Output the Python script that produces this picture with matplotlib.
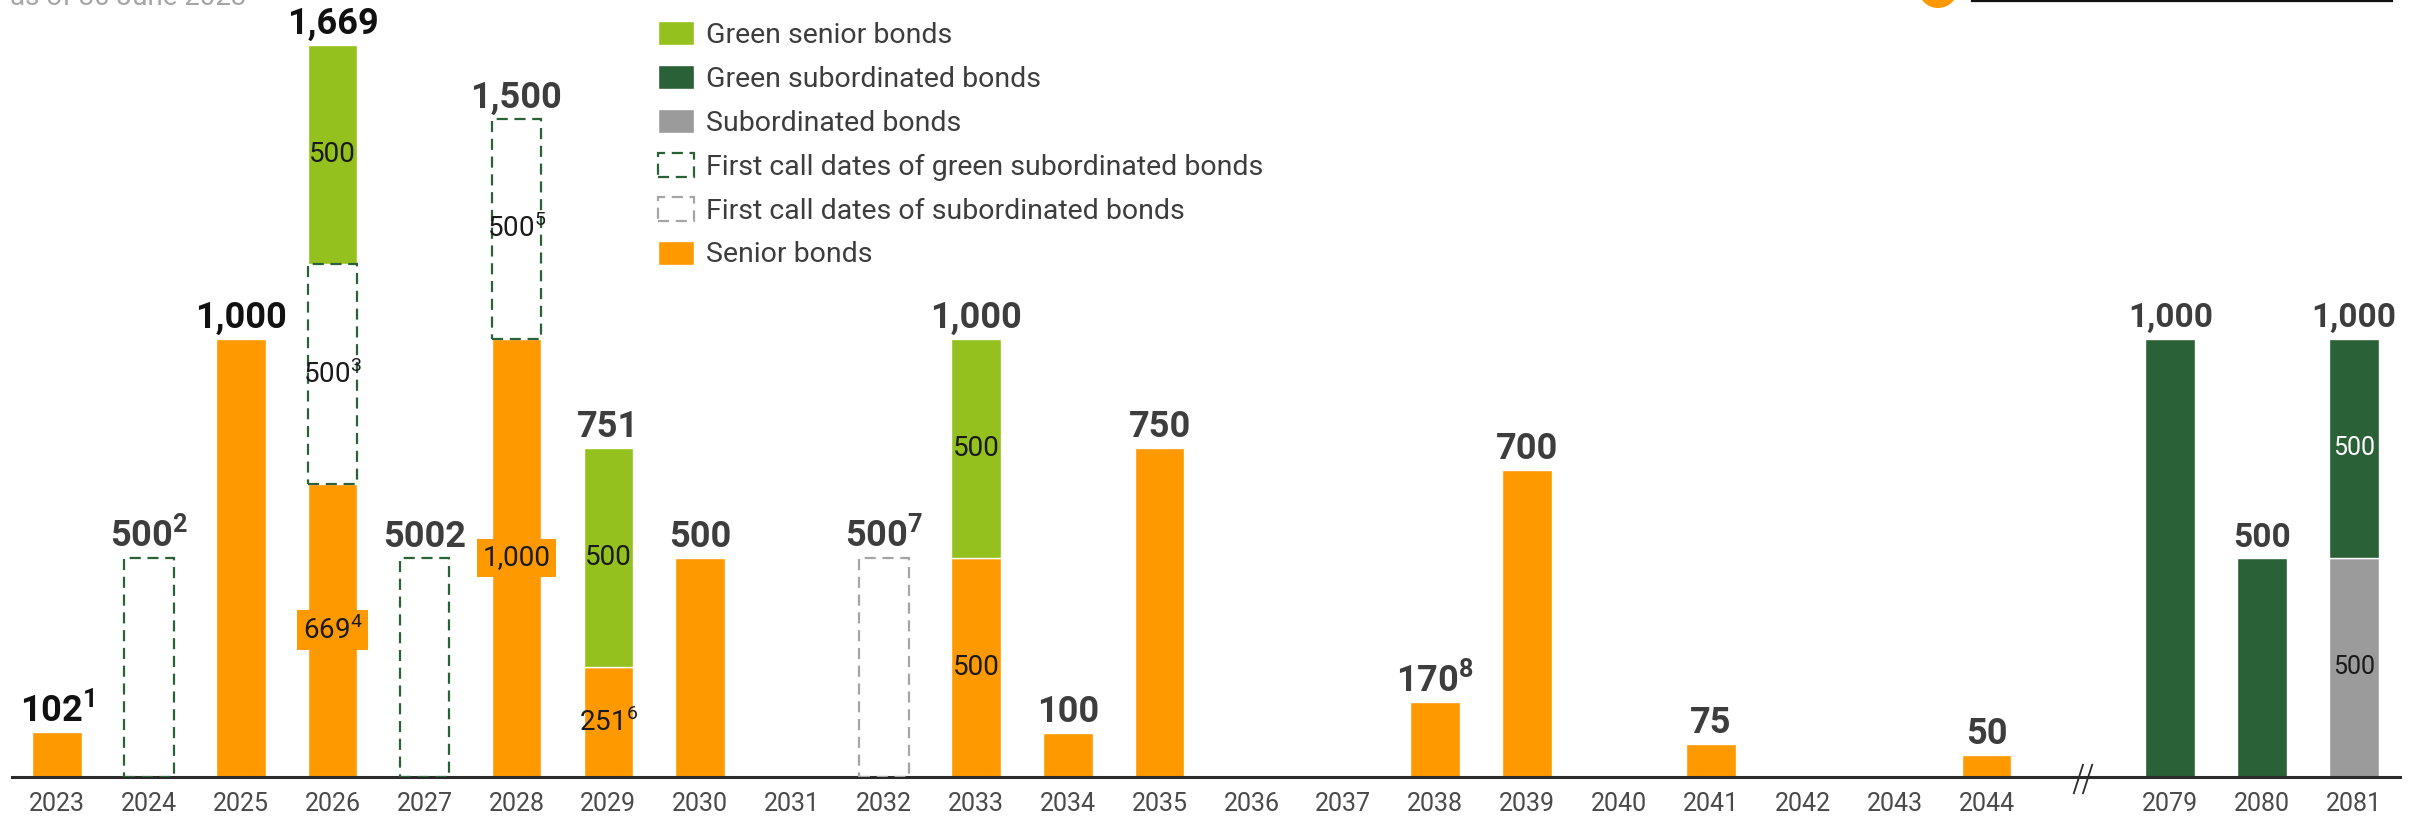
import matplotlib
matplotlib.use("Agg")
import matplotlib.pyplot as plt
from matplotlib import font_manager
from matplotlib.patches import Patch, Ellipse
from matplotlib.lines import Line2D
import numpy as np

# ---- data (EUR m, maturity profile as of 30 June 2023) ----
years = ['2023', '2024', '2025', '2026', '2027', '2028', '2029', '2030', '2031', '2032', '2033',
         '2034', '2035', '2036', '2037', '2038', '2039', '2040', '2041', '2042', '2043', '2044',
         '2079', '2080', '2081']
xpos = [0, 1, 2, 3, 4, 5, 6, 7, 8, 9, 10, 11, 12, 13, 14, 15, 16, 17, 18, 19, 20, 21, 23, 24, 25]

senior       = [102, 0, 1000, 669, 0, 1000, 251, 500, 0, 0, 500, 100, 750, 0, 0, 170, 700, 0, 75, 0, 0, 50, 0, 0, 0]
subordinated = [0, 0, 0, 0, 0, 0, 0, 0, 0, 0, 0, 0, 0, 0, 0, 0, 0, 0, 0, 0, 0, 0, 0, 0, 500]
call_green   = [0, 500, 0, 500, 500, 500, 0, 0, 0, 0, 0, 0, 0, 0, 0, 0, 0, 0, 0, 0, 0, 0, 0, 0, 0]
call_sub     = [0, 0, 0, 0, 0, 0, 0, 0, 0, 500, 0, 0, 0, 0, 0, 0, 0, 0, 0, 0, 0, 0, 0, 0, 0]
green_senior = [0, 0, 0, 500, 0, 0, 500, 0, 0, 0, 500, 0, 0, 0, 0, 0, 0, 0, 0, 0, 0, 0, 0, 0, 0]
green_sub    = [0, 0, 0, 0, 0, 0, 0, 0, 0, 0, 0, 0, 0, 0, 0, 0, 0, 0, 0, 0, 0, 0, 1000, 500, 500]

total_text = ['102', '500', '1,000', '1,669', '5002', '1,500', '751', '500', '', '500', '1,000',
              '100', '750', '', '', '170', '700', '', '75', '', '', '50', '1,000', '500', '1,000']
total_sup  = ['1', '2', '', '', '', '', '', '', '', '7', '', '', '', '', '', '8', '', '', '', '', '', '', '', '', '']
total_dark = ['2023', '2025', '2026']

inner_year   = ['2026', '2026', '2026', '2028', '2028', '2029', '2029', '2033', '2033', '2081', '2081']
inner_series = ['senior', 'call_green', 'green_senior', 'senior', 'call_green', 'senior', 'green_senior',
                'senior', 'green_senior', 'subordinated', 'green_sub']
inner_text   = ['669', '500', '500', '1,000', '500', '251', '500', '500', '500', '500', '500']
inner_sup    = ['4', '3', '', '', '5', '6', '', '', '', '', '']
inner_boxed  = ['2026/senior', '2028/senior']

legend_labels = ['Green senior bonds', 'Green subordinated bonds', 'Subordinated bonds',
                 'First call dates of green subordinated bonds', 'First call dates of subordinated bonds',
                 'Senior bonds']

# ---- style ----
ORANGE = '#FF9900'
LGREEN = '#95C11F'
DGREEN = '#2A6136'
GREY = '#9B9B9B'
DASHGREY = '#A5A5A5'
TXT = '#3D3D3D'
DASH = (0, (5, 3))

names = {f.name for f in font_manager.fontManager.ttflist}
main_font = 'Liberation Sans Narrow' if 'Liberation Sans Narrow' in names else 'Roboto'
plt.rcParams['font.family'] = [main_font, 'DejaVu Sans']
plt.rcParams['mathtext.fontset'] = 'custom'
plt.rcParams['mathtext.rm'] = main_font
plt.rcParams['mathtext.bf'] = main_font + ':bold'

fig = plt.figure(figsize=(24.28, 8.17), dpi=100)
ax = fig.add_axes([12 / 2428, 40 / 817, 2388 / 2428, 777 / 817])

x = np.array(xpos, dtype=float)
w = 0.54
series = {
    'senior': senior, 'subordinated': subordinated, 'call_green': call_green,
    'call_sub': call_sub, 'green_senior': green_senior, 'green_sub': green_sub,
}
order = ['senior', 'subordinated', 'call_green', 'call_sub', 'green_senior', 'green_sub']
bottoms = {}
bottom = np.zeros(len(years))
for name in order:
    vals = np.array(series[name], dtype=float)
    bottoms[name] = bottom.copy()
    m = vals > 0
    if name == 'call_green':
        ax.bar(x[m], vals[m], w, bottom=bottom[m], fill=False, edgecolor=DGREEN,
               linestyle=DASH, linewidth=1.6, zorder=3)
    elif name == 'call_sub':
        ax.bar(x[m], vals[m], w, bottom=bottom[m], fill=False, edgecolor=DASHGREY,
               linestyle=DASH, linewidth=1.6, zorder=3)
    else:
        col = {'senior': ORANGE, 'subordinated': GREY, 'green_senior': LGREEN, 'green_sub': DGREEN}[name]
        ax.bar(x[m], vals[m], w, bottom=bottom[m], color=col, edgecolor='white', linewidth=1.0, zorder=2)
    bottom = bottom + vals
totals = bottom

# totals above bars
for i, t in enumerate(total_text):
    if not t:
        continue
    right = xpos[i] > 21
    col = '#111111' if years[i] in total_dark else TXT
    if total_sup[i]:
        s = t + r'$^{\mathbf{' + total_sup[i] + '}}$'
    else:
        s = t
    ax.annotate(s, (x[i], totals[i]), xytext=(0, 8), textcoords='offset points',
                ha='center', va='baseline', fontsize=24 if right else 26, fontweight='bold',
                color=col, zorder=5)

# labels inside segments
for yr, ser, t, sp in zip(inner_year, inner_series, inner_text, inner_sup):
    i = years.index(yr)
    v = series[ser][i]
    yc = bottoms[ser][i] + v / 2
    s = t + (r'$^{\mathrm{' + sp + '}}$' if sp else '')
    right = xpos[i] > 21
    col = 'white' if ser == 'green_sub' else '#1A1A1A'
    kw = {}
    if yr + '/' + ser in inner_boxed:
        kw['bbox'] = dict(boxstyle='square,pad=0.2', facecolor=ORANGE, edgecolor='none')
    ax.text(x[i], yc, s, ha='center', va='center', color=col,
            fontsize=18 if right else 20, zorder=6, **kw)

# axes
ax.set_xlim(-0.49, 25.5)
ax.set_ylim(0, 1772)
for s in ['left', 'right', 'top']:
    ax.spines[s].set_visible(False)
ax.spines['bottom'].set_color('#2B2B2B')
ax.spines['bottom'].set_linewidth(2.2)
ax.set_yticks([])
ax.set_xticks(xpos)
ax.set_xticklabels(years)
ax.tick_params(axis='x', length=0, pad=11, labelsize=18, labelcolor='#4A4A4A')

# axis break
for c in [22.0, 22.1]:
    ax.plot([c - 0.05, c + 0.05], [-37, 28], color='#2B2B2B', lw=1.3, clip_on=False, zorder=7)

# legend
handles = [
    Patch(facecolor=LGREEN, edgecolor='white'),
    Patch(facecolor=DGREEN, edgecolor='white'),
    Patch(facecolor=GREY, edgecolor='white'),
    Patch(facecolor='none', edgecolor=DGREEN, linestyle=DASH, linewidth=1.6),
    Patch(facecolor='none', edgecolor=DASHGREY, linestyle=DASH, linewidth=1.6),
    Patch(facecolor=ORANGE, edgecolor='white'),
]
leg = ax.legend(handles, legend_labels, loc='upper left', bbox_to_anchor=(658 / 2428, 1 - 21 / 817),
                bbox_transform=fig.transFigure, frameon=False, fontsize=20.5, borderpad=0,
                borderaxespad=0, handlelength=1.26, handleheight=0.91, handletextpad=0.42,
                labelspacing=0.57)
for t in leg.get_texts():
    t.set_color(TXT)

# cropped header elements
fig.text(10 / 2428, 1 - 5 / 817, 'as of 30 June 2023', ha='left', va='baseline',
         fontsize=20, color='#A6A6A6')
fig.patches.append(Ellipse((1938 / 2428, 1 + 12 / 817), 40 / 2428, 40 / 817,
                           transform=fig.transFigure, facecolor=ORANGE, edgecolor='none'))
fig.lines.append(Line2D([1972 / 2428, 2392 / 2428], [1 - 1 / 817, 1 - 1 / 817],
                        transform=fig.transFigure, color='#111111', lw=1.6))

fig.savefig('out.png', dpi=100)
